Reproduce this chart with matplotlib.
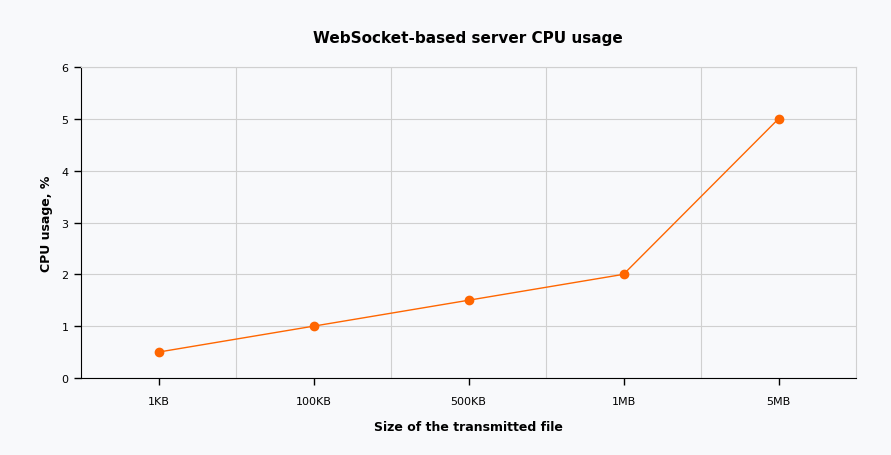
import matplotlib
matplotlib.use("Agg")
import matplotlib.pyplot as plt
from matplotlib.ticker import FixedLocator

# Data
sizes = ["1KB", "100KB", "500KB", "1MB", "5MB"]
cpu_usage = [0.5, 1.0, 1.5, 2.0, 5.0]

bg = "#f8f9fb"
orange = "#ff6600"

fig = plt.figure(figsize=(8.91, 4.56), dpi=100, facecolor=bg)
ax = fig.add_axes([81 / 891, 77 / 456, 775 / 891, 311 / 456], facecolor=bg)

x = list(range(len(sizes)))
ax.plot(x, cpu_usage, color=orange, linewidth=1, marker="o", markersize=6, zorder=3)

ax.set_xlim(-0.5, len(sizes) - 0.5)
ax.set_ylim(0, 6)
ax.set_xticks(x)
ax.set_xticklabels(sizes, fontsize=8)
ax.set_yticks(range(0, 7))
ax.tick_params(axis="y", labelsize=8, length=5, width=1, pad=4)
ax.tick_params(axis="x", length=5, width=1, pad=8)

# grid: horizontal at y ticks, vertical at category boundaries
ax.xaxis.set_minor_locator(FixedLocator([i + 0.5 for i in range(len(sizes) - 1)]))
ax.tick_params(axis="x", which="minor", length=0)
ax.grid(axis="y", which="major", color="#d0d0d0", linewidth=0.8)
ax.grid(axis="x", which="minor", color="#d0d0d0", linewidth=0.8)
ax.set_axisbelow(True)

for s in ["top", "right"]:
    ax.spines[s].set_color("#d0d0d0")
for s in ["left", "bottom"]:
    ax.spines[s].set_color("black")

ax.set_xlabel("Size of the transmitted file", fontsize=9, fontweight="bold", labelpad=10)
ax.set_ylabel("CPU usage, %", fontsize=9, fontweight="bold", labelpad=6)
fig.suptitle("WebSocket-based server CPU usage", x=468 / 891, y=1 - 38 / 456,
             va="center", fontsize=11, fontweight="bold")

fig.savefig("out.png", dpi=100, facecolor=bg)
